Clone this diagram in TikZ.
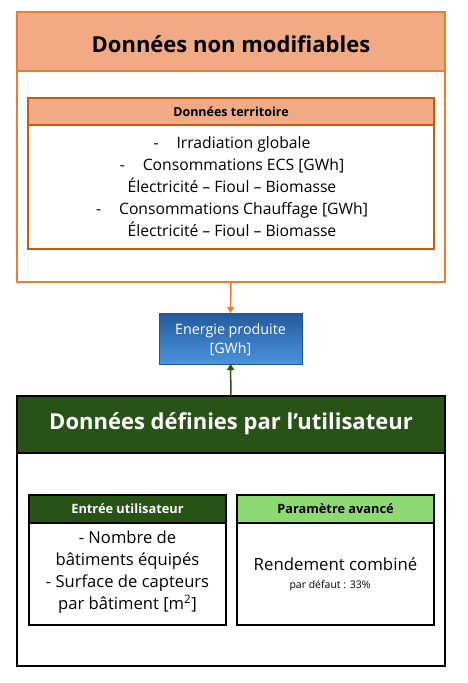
\documentclass[tikz,border=0pt]{standalone}
\usepackage{fontspec}
\setmainfont{Open Sans}
\usetikzlibrary{arrows.meta}
\definecolor{orangeline}{RGB}{237,125,49}
\definecolor{orangefill}{RGB}{242,170,132}
\definecolor{orangedark}{RGB}{197,90,17}
\definecolor{greendark}{RGB}{39,83,23}
\definecolor{greenlight}{RGB}{142,217,115}
\definecolor{bluetop}{RGB}{36,90,156}
\definecolor{bluebot}{RGB}{72,148,222}
\definecolor{blueline}{RGB}{34,84,150}
\tikzset{
  box/.style={anchor=north west, inner sep=0pt, outer sep=0pt},
  txt/.style={inner sep=0pt, align=center},
}
\begin{document}
\begin{tikzpicture}[x=1pt,y=-1pt]
\useasboundingbox[fill=white] (0,0) rectangle (467,683);
% top block
\node[box, draw=orangeline, line width=1.5pt, minimum width=428pt, minimum height=270pt] (top) at (17,12) {};
\node[box, fill=orangefill, draw=orangeline, line width=1.5pt, minimum width=428pt, minimum height=59pt] (tophead) at (17,12) {};
\node[txt, font=\fontsize{22}{25}\selectfont\bfseries] (toptitle) at (231,44) {Données non modifiables};
\node[box, draw=orangedark, line width=1.5pt, minimum width=406pt, minimum height=151pt] (terr) at (28,98) {};
\node[box, fill=orangefill, draw=orangedark, line width=1.5pt, minimum width=406pt, minimum height=27pt] (terrhead) at (28,98) {};
\node[txt, font=\fontsize{12.5}{14}\selectfont\bfseries] (terrtitle) at (231,111.5) {Données territoire};
\node[txt, font=\fontsize{15.7}{22}\selectfont] (terrtext) at (232,186.5) {%
-\hspace{18pt}Irradiation globale\\
-\hspace{18pt}Consommations ECS [GWh]\\
Électricité – Fioul – Biomasse\\
-\hspace{18pt}Consommations Chauffage [GWh]\\
Électricité – Fioul – Biomasse};
% blue box
\node[box, draw=blueline, line width=1pt, top color=bluetop, bottom color=bluebot, minimum width=143pt, minimum height=51pt] (energie) at (159,313) {};
\node[txt, text=white, font=\fontsize{14.3}{19}\selectfont] (energietext) at (230.5,339.5) {Energie produite\\\relax[GWh]};
% bottom block
\node[box, draw=black, line width=1.5pt, minimum width=428pt, minimum height=270pt] (bot) at (17,396) {};
\node[box, fill=greendark, draw=black, line width=1.5pt, minimum width=428pt, minimum height=57pt] (bothead) at (17,396) {};
\node[txt, text=white, font=\fontsize{22}{25}\selectfont\bfseries] (bottitle) at (231,424) {Données définies par l’utilisateur};
% left inner
\node[box, draw=black, line width=1.5pt, minimum width=197pt, minimum height=130pt] (entree) at (29,495) {};
\node[box, fill=greendark, draw=black, line width=1.5pt, minimum width=197pt, minimum height=28pt] (entreehead) at (29,495) {};
\node[txt, text=white, font=\fontsize{12.8}{14}\selectfont\bfseries] (entreetitle) at (127.5,509) {Entrée utilisateur};
\node[txt, font=\fontsize{16.6}{22}\selectfont] (entreetext) at (127.5,572.5) {%
- Nombre de\\
bâtiments équipés\\
- Surface de capteurs\\
par bâtiment [m\textsuperscript{2}]};
% right inner
\node[box, draw=black, line width=1.5pt, minimum width=197pt, minimum height=130pt] (param) at (237,495) {};
\node[box, fill=greenlight, draw=black, line width=1.5pt, minimum width=197pt, minimum height=28pt] (paramhead) at (237,495) {};
\node[txt, font=\fontsize{12.8}{14}\selectfont\bfseries] (paramtitle) at (335.5,509) {Paramètre avancé};
\node[txt, font=\fontsize{16.8}{18}\selectfont] (rendement) at (335.5,564) {Rendement combiné};
\node[txt, font=\fontsize{10.5}{12}\selectfont] (defaut) at (330,586) {par défaut : 33\%};
% connectors
\draw[orangeline, line width=1.5pt, -{Triangle[length=6pt,width=7pt]}] (top.south) -- (energie.north);
\draw[greendark, line width=1.5pt, -{Triangle[length=6pt,width=7pt]}] (bot.north) -- (energie.south);
\end{tikzpicture}
\end{document}
